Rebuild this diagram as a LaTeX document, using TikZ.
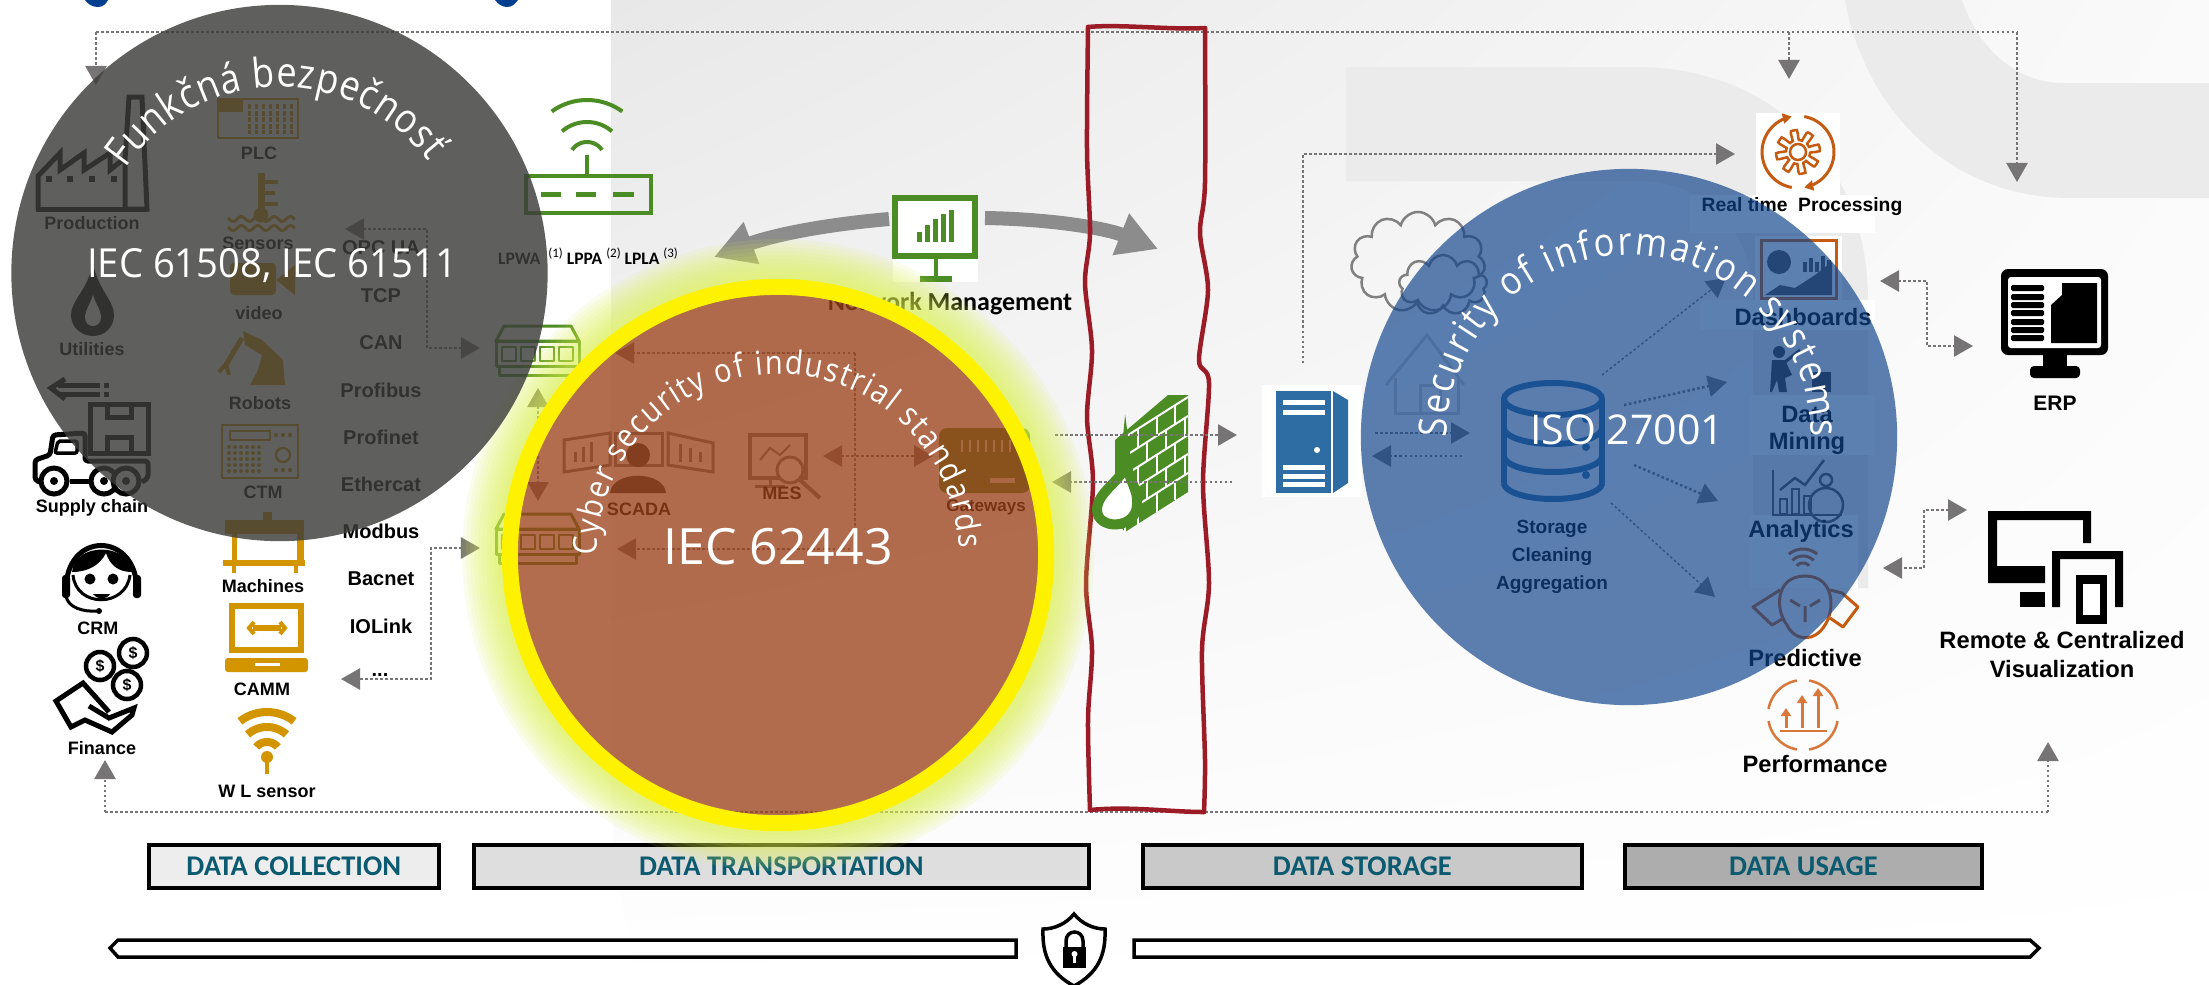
\documentclass[tikz,border=0pt]{standalone}
\usepackage{fontspec}
\setmainfont{Liberation Sans}
\newfontfamily\carl{Carlito}
\newfontfamily\opens{Open Sans}
\newfontfamily\opensn[FakeStretch=.88]{Open Sans}
\usetikzlibrary{arrows.meta,decorations.text,shapes.symbols,shadings}
\definecolor{dotc}{HTML}{767474}
\definecolor{gold}{HTML}{D29500}
\definecolor{grn}{HTML}{4C8C24}
\definecolor{srv}{HTML}{2E6DA4}
\definecolor{redl}{HTML}{9B1C26}
\definecolor{teal}{HTML}{0B5A70}
\definecolor{orng}{HTML}{C55A11}
\definecolor{orn2}{HTML}{D9773A}
\definecolor{ttl}{HTML}{003F8F}
\definecolor{band}{HTML}{EBEBEB}
\definecolor{bluec}{HTML}{10448C}
\definecolor{orac}{HTML}{9C411A}
\definecolor{grayc}{HTML}{3D3D3B}
\definecolor{glow}{HTML}{DDF24A}
\newcommand{\fpx}[1]{\fontsize{\fpeval{#1/3.515}pt}{\fpeval{#1/3.515*1.2}pt}\selectfont}
\newcommand{\warc}[5]{plot[domain=#4:#5,samples=30] ({#1+#3*cos(\x)},{#2-#3*sin(\x)})}
\newcommand{\supn}[1]{\raisebox{.42em}{\fpx{13}(#1)}}
\newcommand{\mkswitch}[2]{%
  \begin{scope}[shift={(#1,#2)},grn,lw=3,line join=round]
    \draw (8,0) -- (75,0) -- (83,15) -- (0,15) -- cycle;
    \draw (0,15) rectangle (83,40);
    \foreach \i in {6,25,44,63} {\draw[lw=2.5] (\i,21) rectangle ++(14,14);}
    \draw (3,40) rectangle (80,49);
  \end{scope}}
\tikzset{
  lw/.style={line width=#1*0.01cm},
  dotl/.style={draw=dotc,lw=2.5,dash pattern=on .025cm off .025cm},
  tip/.style={-{Triangle[width=.21cm,length=.19cm]}},
  tips/.style={{Triangle[width=.21cm,length=.19cm]}-{Triangle[width=.21cm,length=.19cm]}},
  lab/.style={font=\bfseries\fpx{18},inner sep=0pt,text=black,align=center},
  prot/.style={font=\bfseries\fpx{20},inner sep=0pt,text=black,align=center},
  labr/.style={font=\bfseries\fpx{23.7},inner sep=0pt,text=black,align=center},
  stage/.style={draw=black,lw=3.5,font=\carl\bfseries\fpx{28.5},text=teal,inner sep=0pt,anchor=north west},
  barx/.style={draw=black,lw=3.5,fill=white,line join=miter},
  bigtext/.style={font=\opens,text=white,inner sep=0pt},
  redb/.style={redl,lw=4.5,line join=round,line cap=round},
}
\begin{document}
\begin{tikzpicture}[x=0.01cm,y=-0.01cm]
\useasboundingbox (0,0) rectangle (2209,984);
\clip (0,0) rectangle (2209,984);
\fill[white] (0,0) rectangle (2209,984);
% background
\shade[upper left=black!9,upper right=black!2,lower left=white,lower right=white]
  (611,0) -- (2209,0) -- (2209,984) -- (640,984) .. controls (618,900) and (611,840) .. (611,750) -- cycle;
\fill[band] (1845,0) .. controls (1865,110) and (1950,198) .. (2070,198) -- (2209,198) -- (2209,83) -- (2063,83) .. controls (2010,83) and (1975,40) .. (1962,0) -- cycle;
\fill[band] (1346,67) -- (1635,67) .. controls (1780,67) and (1868,170) .. (1868,300) -- (1868,588) -- (1753,588) -- (1753,300) .. controls (1753,225) and (1700,181) .. (1640,181) -- (1346,181) -- cycle;
\fill[white] (1756,113) rectangle (1840,195);
\fill[white] (1690,195) rectangle (1875,233);
\fill[white] (1755,236) rectangle (1842,300);
\fill[white] (1700,300) rectangle (1875,330);
\fill[white] (1750,395) rectangle (1875,455);
\fill[white] (1750,515) rectangle (1858,588);
% title fragments
\fill[ttl] (85,0) .. controls (88,4) and (92,7) .. (98,7) .. controls (103,7) and (106,4) .. (108,0) -- cycle;
\fill[ttl] (495,0) .. controls (498,4) and (502,7) .. (507,7) .. controls (512,7) and (515,4) .. (518,0) -- cycle;

% connector end points
\coordinate (tL) at (96,85); \coordinate (tLc) at (96,32);
\coordinate (tR) at (2017,182); \coordinate (tRc) at (2017,32);
\coordinate (tM) at (1789,79); \coordinate (tMc) at (1789,32);
\coordinate (bL) at (105,760); \coordinate (bLc) at (105,812);
\coordinate (bR) at (2048,742); \coordinate (bRc) at (2048,812);
\coordinate (rtS) at (1303,363); \coordinate (rtC) at (1303,154); \coordinate (rtE) at (1735,154);
\coordinate (p1a) at (345,229); \coordinate (p1b) at (427,229); \coordinate (p1c) at (427,348); \coordinate (p1d) at (480,348);
\coordinate (p2a) at (480,548); \coordinate (p2b) at (431,548); \coordinate (p2c) at (431,679); \coordinate (p2d) at (341,679);
\coordinate (swA) at (538,388); \coordinate (swB) at (538,501);
\coordinate (g1) at (615,353); \coordinate (gc) at (855,353); \coordinate (g2) at (855,549); \coordinate (g3) at (617,549);
\coordinate (m1) at (823,456); \coordinate (m2) at (933,456);
\coordinate (f1) at (1055,435); \coordinate (f2) at (1237,435);
\coordinate (f3) at (1232,482); \coordinate (f4) at (1052,482);
\coordinate (s1) at (1375,433); \coordinate (s2) at (1470,433);
\coordinate (s3) at (1462,456); \coordinate (s4) at (1372,456);
\coordinate (db1a) at (1602,375); \coordinate (db1b) at (1726,278);
\coordinate (db2a) at (1624,405); \coordinate (db2b) at (1727,382);
\coordinate (db3a) at (1634,465); \coordinate (db3b) at (1718,501);
\coordinate (db4a) at (1611,503); \coordinate (db4b) at (1715,597);
\coordinate (e1) at (1880,281); \coordinate (e2) at (1927,281); \coordinate (e3) at (1927,346); \coordinate (e4) at (1973,346);
\coordinate (v1) at (1967,510); \coordinate (v2) at (1924,510); \coordinate (v3) at (1924,568); \coordinate (v4) at (1883,568);
\coordinate (nmL) at (889,219); \coordinate (nmLt) at (714,257);
\coordinate (nmR) at (985,218); \coordinate (nmRt) at (1158,249);

% dotted connectors
\draw[dotl] (tLc) -- (tRc);
\draw[dotl,tip] (tLc) -- (tL);
\draw[dotl,tip] (tRc) -- (tR);
\draw[dotl,tip] (tMc) -- (tM);
\draw[dotl] (bLc) -- (bRc);
\draw[dotl,tip] (bLc) -- (bL);
\draw[dotl,tip] (bRc) -- (bR);
\draw[dotl,tip] (rtS) -- (rtC) -- (rtE);
\draw[dotl,tips] (p1a) -- (p1b) -- (p1c) -- (p1d);
\draw[dotl,tips] (p2a) -- (p2b) -- (p2c) -- (p2d);
\draw[dotl,tips] (swA) -- (swB);
\draw[dotl,tip] (gc) -- (g1);
\draw[dotl,tip] (g2) -- (g3);
\draw[dotl] (gc) -- (g2);
\draw[dotl,tips] (m1) -- (m2);
\draw[dotl,tip] (s1) -- (s2);
\draw[dotl,tip] (s3) -- (s4);
\draw[dotl,lw=1.5,tip] (db1a) -- (db1b);
\draw[dotl,tip] (db2a) -- (db2b);
\draw[dotl,tip] (db3a) -- (db3b);
\draw[dotl,lw=1.5,tip] (db4a) -- (db4b);
\draw[dotl,tips] (e1) -- (e2) -- (e3) -- (e4);
\draw[dotl,tips] (v1) -- (v2) -- (v3) -- (v4);
% network management arrows
\draw[black!45,lw=14,-{Triangle[width=.42cm,length=.4cm]}] (nmL) .. controls (810,226) and (765,238) .. (nmLt);
\draw[black!45,lw=14,-{Triangle[width=.42cm,length=.4cm]}] (nmR) .. controls (1050,219) and (1105,228) .. (nmRt);

% red wavy frame
\draw[redb] plot[smooth,tension=.5] coordinates {(1088,27) (1087,150) (1090,233) (1085,283) (1092,350) (1087,417) (1093,483) (1086,583) (1092,650) (1088,720) (1090,810)};
\draw[redb] plot[smooth,tension=.5] coordinates {(1205,28) (1205,183) (1200,233) (1208,290) (1199,360) (1209,383) (1203,483) (1209,583) (1202,650) (1205,760) (1204,812)};
\draw[redb] (1088,27) .. controls (1120,24) and (1170,30) .. (1205,28);
\draw[redb] (1090,810) .. controls (1130,806) and (1170,812) .. (1204,812);

% section boxes
\node[stage,fill=black!7,minimum width=2.9cm,minimum height=.43cm] (dc) at (147,843) {DATA COLLECTION};
\node[stage,fill=black!13,minimum width=6.15cm,minimum height=.43cm] (dt) at (472,843) {DATA TRANSPORTATION};
\node[stage,fill=black!21,minimum width=4.39cm,minimum height=.43cm] (ds) at (1141,843) {DATA STORAGE};
\node[stage,fill=black!32,minimum width=3.57cm,minimum height=.43cm] (du) at (1623,843) {DATA USAGE};
% long bars
\draw[barx] (1016,940) -- (118,940) -- (110,948) -- (118,957) -- (1016,957) -- cycle;
\draw[barx] (1134,940) -- (2030,940) -- (2039,948) -- (2030,957) -- (1134,957) -- cycle;
% shield
\draw[lw=3.5,fill=white] (1074,914) .. controls (1066,924) and (1054,929) .. (1043,929) .. controls (1042,955) and (1050,973) .. (1074,986) .. controls (1098,973) and (1106,955) .. (1105,929) .. controls (1094,929) and (1082,924) .. (1074,914) -- cycle;
\draw[lw=3.5] (1066,948) -- (1066,941) .. controls (1066,929) and (1083,929) .. (1083,941) -- (1083,948);
\fill[black] (1063,947) rectangle (1086,968);
\fill[white] (1074.5,954) circle[radius=.03cm]; \fill[white] (1073,955) rectangle (1076,963);

% ---- left black icons
\begin{scope}[lw=5,line join=miter]
\draw (38,209) -- (38,176) -- (60,153) -- (60,170) -- (84,153) -- (84,170) -- (110,153) -- (110,170) -- (125,158);
\draw (125,209) -- (125,160) -- (129,97) -- (142,97) -- (147,209) -- cycle;
\draw (36,209) -- (148,209);
\foreach \i in {49,70,92,114} {\fill (\i-3,176) rectangle (\i+3,182);}
\fill[black] (93,263) .. controls (88,290) and (71,300) .. (71,315) .. controls (71,328) and (82,336) .. (93,336) .. controls (104,336) and (114,328) .. (114,315) .. controls (114,300) and (98,290) .. (93,263) -- cycle;
\fill[white] (93,295) .. controls (90,305) and (85,310) .. (85,317) .. controls (85,323) and (89,326) .. (93,326) .. controls (97,326) and (101,323) .. (101,317) .. controls (101,310) and (96,305) .. (93,295) -- cycle;
\draw (65,379) -- (51,388) -- (65,399);
\draw (58,385) -- (100,385) (58,394) -- (100,394) (104,385) -- (109,385) (104,394) -- (109,394);
\draw (90,404) rectangle (148,453);
\draw (107,404) -- (107,417) -- (131,417) -- (131,404) (107,453) -- (107,437) -- (131,437) -- (131,453);
\draw[rounded corners=.03cm,fill=white] (40,482) -- (35,480) -- (35,460) -- (50,455) -- (53,435) -- (85,433) -- (85,461) -- (148,461) -- (148,478) -- (142,482);
\draw (70,481) -- (92,481);
\draw[lw=3.5,rounded corners=.02cm] (58,441) -- (77,441) -- (77,453) -- (55,453) -- cycle;
\foreach \i in {54,104,126} {\draw[fill=white] (\i,481) circle[radius=.13cm]; \fill (\i,481) circle[radius=.04cm];}
% CRM
\draw (66,592) .. controls (64,530) and (138,530) .. (137,592);
\fill (72,572) .. controls (75,542) and (128,542) .. (132,572) .. controls (118,572) and (110,565) .. (106,553) .. controls (100,565) and (88,572) .. (72,572) -- cycle;
\draw[lw=3] (73,575) .. controls (76,608) and (126,608) .. (130,575);
\fill[rounded corners=.03cm] (62,575) rectangle (70,598);
\fill[rounded corners=.03cm] (133,575) rectangle (141,598);
\draw[lw=3] (66,596) .. controls (68,608) and (84,612) .. (97,611);
\fill (99,611) circle[radius=.03cm];
\fill (90,579) circle[radius=.055cm]; \fill (113,579) circle[radius=.055cm];
\fill (93,594) .. controls (98,600) and (106,600) .. (110,594) -- cycle;
% Finance
\foreach \i/\j in {133/653,100/666,127/685} {\draw[lw=4.5,fill=white] (\i,\j) circle[radius=.14cm];
  \node[inner sep=0pt,font=\bfseries\fpx{16}] at (\i,\j) {\$};}
\draw[line join=miter,lw=5] (89,706) -- (109,718) -- (134,708) -- (132,715) -- (112,732) -- (85,720) -- (71,727) -- (56,701) -- (83,683) -- (109,712);
\end{scope}

% ---- gold icons
\begin{scope}[gold,lw=2.5]
\draw (218,99) rectangle (298,138);
\fill (218,99) rectangle (243,112);
\foreach \i in {249,256,263,270,277,284,291} {\draw[lw=3,dash pattern=on .05cm off .015cm] (\i,104) -- (\i,134);}
\draw[lw=7] (261,173) -- (261,215);
\draw[lw=3.5] (264,182) -- (278,182) (264,193) -- (275,193) (264,204) -- (278,204);
\fill (261,215) circle[radius=.075cm];
\draw[lw=3] plot[domain=228:295,samples=40] (\x,{219+2.5*sin(\x*22)});
\draw[lw=3] plot[domain=228:295,samples=40] (\x,{228+2.5*sin(\x*22)});
\fill[rounded corners=.04cm] (230,263) rectangle (276,295);
\fill (276,280) -- (295,265) -- (295,295) -- cycle;
\fill (243,331) -- (262,340) -- (283,360) -- (285,385) -- (250,385) -- (258,370) -- (262,355) -- (245,345) -- cycle;
\draw[lw=5] (242,338) -- (224,368);
\draw[lw=4] (219,372) -- (226,364) -- (229,375);
\draw (222,425) rectangle (298,478);
\draw (230,431) rectangle (270,440);
\foreach \i in {276,283,290} {\fill (\i,435) circle[radius=.022cm]; \fill (\i,470) circle[radius=.022cm]; }
\foreach \i in {229,235,241,247,253,259} \foreach \j in {447,453,459,465,471} {\fill (\i,\j) circle[radius=.02cm];}
\draw (283,455) circle[radius=.07cm];
\fill (225,520) rectangle (304,534);
\fill (263,512) rectangle (272,522);
\fill (232,534) rectangle (237,562);
\fill (297,534) rectangle (304,562);
\fill (223,560) rectangle (305,566);
\fill (232,566) rectangle (236,573); \fill (294,566) rectangle (298,573);
\draw[lw=6] (232,606) rectangle (301,650);
\fill[rounded corners=.03cm] (225,658) rectangle (308,672);
\fill[white] (255,663) rectangle (280,666);
\draw[lw=6] (253,628) -- (281,628);
\draw[lw=4] (254,622) -- (249,628) -- (254,634) (280,622) -- (285,628) -- (280,634);
\draw[lw=8] \warc{267}{756}{44}{52}{128};
\draw[lw=8] \warc{267}{756}{29}{48}{132};
\draw[lw=8] \warc{267}{756}{14}{40}{140};
\fill (267,757) circle[radius=.06cm];
\draw[lw=4] (267,757) -- (267,774);
\end{scope}

% ---- green icons
\begin{scope}[grn,lw=4]
\draw (526,176) rectangle (651,213);
\draw[lw=5] (541,194) -- (561,194) (576,194) -- (596,194) (613,194) -- (634,194);
\draw (587,155) -- (587,176);
\draw \warc{587}{160}{18}{34}{146};
\draw \warc{587}{160}{38}{49}{131};
\draw \warc{587}{160}{60}{54}{126};
\end{scope}
\mkswitch{496}{326}
\mkswitch{496}{514}
% monitor net mgmt
\fill[white] (893,195) rectangle (978,282);
\draw[grn,lw=6] (895,198) rectangle (975,256);
\foreach \i/\j in {917/10,925/17,933/23,941/28,949/32} {\fill[grn] (\i,242) rectangle (\i+5,242-\j);}
\draw[grn,lw=4] (936,256) -- (936,278);
\fill[grn] (920,276) rectangle (952,282);
% gateway
\fill[grn,rounded corners=.08cm] (939,428) rectangle (1030,493);
\foreach \i in {962,970,978,986,994,1002,1010} {\draw[white!80!grn,lw=2] (\i,440) -- (\i,452);}
\fill[white!80!grn] (990,478) rectangle (1015,483);
% firewall
\fill[grn] (1115,440) -- (1168,395) -- (1188,395) -- (1188,492) -- (1125,532) -- (1115,520) -- cycle;
\foreach \i in {0,1,2,3,4} {
  \draw[white,lw=2] (1125,{437+19*\i}) -- (1188,{397+19*\i});
  \foreach \t in {.2,.5,.8} {\draw[white,lw=2] ({1125+63*(\t+0.15*mod(\i,2))},{437-40*(\t+0.15*mod(\i,2))+19*\i}) -- ++(0,19);}
}
\draw[white,lw=2] (1125,437) -- (1125,532);
\draw[grn,lw=10,fill=white] (1126,460) .. controls (1126,480) and (1097,490) .. (1097,510) .. controls (1097,530) and (1136,530) .. (1137,505) .. controls (1139,490) and (1128,480) .. (1126,460) -- cycle;
\draw[dotl,tip] (f1) -- (f2);
\draw[dotl,tip] (f3) -- (f4);
% SCADA, MES
\begin{scope}[black!55]
\draw[lw=3] (564,440) -- (610,433) -- (610,465) -- (564,472) -- cycle;
\draw[lw=3] (668,433) -- (713,443) -- (713,472) -- (668,465) -- cycle;
\draw[lw=3] (615,433) rectangle (662,465);
\foreach \i/\j in {575/10,583/15,591/20,680/18,690/14,700/10} {\draw[lw=3] (\i,462) -- (\i,462-\j);}
\fill[black!80] (638,455) circle[radius=.12cm];
\fill[black!80] (610,493) .. controls (612,470) and (664,470) .. (666,493) -- cycle;
\draw[lw=3.5] (750,435) rectangle (806,478);
\draw[lw=3] (770,478) -- (770,486) (755,486) -- (785,486);
\draw[lw=3,fill=white] (790,470) circle[radius=.13cm];
\draw[lw=4] (800,480) -- (820,498);
\draw[lw=2] (760,460) -- (770,448) -- (780,455) -- (790,445);
\end{scope}
% server
\fill[white] (1262,385) rectangle (1362,497);
\fill[srv] (1276,391) rectangle (1331,493);
\fill[srv] (1333,391) -- (1348,400) -- (1348,483) -- (1333,493) -- cycle;
\foreach \j in {400,410,465,474,482} {\fill[white] (1283,\j) rectangle (1325,\j+5);}
\fill[white] (1317,450) circle[radius=.03cm];
% clouds
\node[cloud,draw=black!50,lw=2.5,cloud puffs=11,aspect=1.3,minimum width=1.34cm,minimum height=1.0cm,inner sep=0pt] (cl1) at (1418,262) {};
\node[cloud,draw=black!50,lw=2.5,cloud puffs=9,aspect=1.5,minimum width=.88cm,minimum height=.6cm,inner sep=0pt] (cl2) at (1443,285) {};
% house
\begin{scope}[black!20,lw=3]
\draw (1386,385) -- (1427,335) -- (1464,385);
\draw (1395,378) -- (1395,413) -- (1458,413) -- (1458,378);
\draw (1420,413) -- (1420,385) -- (1440,385) -- (1440,413);
\end{scope}
% DB
\begin{scope}[srv,lw=6]
\draw (1553,399) ellipse[x radius=.49cm,y radius=.16cm];
\draw (1504,399) -- (1504,483) (1602,399) -- (1602,483);
\draw plot[domain=180:360,samples=30] ({1553+49*cos(\x)},{428-16*sin(\x)});
\draw plot[domain=180:360,samples=30] ({1553+49*cos(\x)},{456-16*sin(\x)});
\draw plot[domain=180:360,samples=30] ({1553+49*cos(\x)},{483-16*sin(\x)});
\fill (1586,419) circle[radius=.04cm]; \fill (1586,447) circle[radius=.04cm]; \fill (1586,475) circle[radius=.04cm];
\end{scope}
% gear
\begin{scope}[orng,lw=2.5]
\draw plot[domain=0:360,samples=160] ({1798+(17+5*max(-1,min(1,3*sin(8*\x))))*cos(\x)},{152-(17+5*max(-1,min(1,3*sin(8*\x))))*sin(\x)}) -- cycle;
\draw (1798,152) circle[radius=.08cm];
\draw[lw=3,-{Triangle[width=.1cm,length=.09cm]}] \warc{1798}{152}{36}{80}{-80};
\draw[lw=3,-{Triangle[width=.1cm,length=.09cm]}] \warc{1798}{152}{36}{260}{100};
\end{scope}
% dashboards
\draw[orng,lw=3] (1761,240) rectangle (1836,298);
\fill[black!70] (1779,262) circle[radius=.12cm];
\foreach \i/\j in {1803/10,1809/14,1815/10,1821/16,1827/12} {\fill[black!70] (\i,272) rectangle (\i+4,272-\j);}
\fill[black!70] (1765,295) -- (1780,285) -- (1795,288) -- (1815,275) -- (1832,262) -- (1832,295) -- cycle;
% data mining
\fill[black!80] (1779,352) circle[radius=.06cm];
\fill[black!80] (1772,360) -- (1785,360) -- (1792,375) -- (1785,378) -- (1787,392) -- (1779,392) -- (1777,380) -- (1772,392) -- (1770,392) -- cycle;
\fill[black!80] (1812,372) rectangle (1831,392);
\draw[black!80,lw=3] (1785,362) -- (1800,350);
% analytics
\begin{scope}[black!70,lw=2.5]
\draw (1773,470) -- (1773,515) -- (1842,515);
\draw (1780,490) -- (1795,478) -- (1805,485) -- (1824,460);
\foreach \i/\j in {1780/15,1792/25,1804/18} {\draw (\i,514) rectangle (\i+7,514-\j);}
\draw (1826,505) circle[radius=.17cm];
\draw (1826,480) circle[radius=.06cm];
\end{scope}
% predictive
\begin{scope}[orng,lw=3,line join=round]
\draw \warc{1803}{571}{8}{40}{140};
\draw \warc{1803}{571}{15}{45}{135};
\draw \warc{1803}{571}{22}{50}{130};
\draw (1805,576) .. controls (1835,576) and (1835,610) .. (1825,625) .. controls (1815,642) and (1795,642) .. (1787,625) .. controls (1775,610) and (1775,576) .. (1805,576) -- cycle;
\draw (1780,590) -- (1753,607) -- (1772,625) -- (1784,618);
\draw (1830,590) -- (1842,593) -- (1858,607) -- (1843,627) -- (1830,618);
\draw (1790,600) -- (1800,606) (1820,600) -- (1810,606) (1805,606) -- (1805,622);
\end{scope}
% performance
\begin{scope}[orn2,lw=2.5]
\draw \warc{1803}{715}{35}{10}{80};
\draw \warc{1803}{715}{35}{100}{170};
\draw \warc{1803}{715}{35}{190}{260};
\draw \warc{1803}{715}{35}{280}{350};
\draw (1780,731) -- (1827,731);
\draw[lw=3,-{Triangle[width=.1cm,length=.08cm]}] (1786,728) -- (1786,708);
\draw[lw=3,-{Triangle[width=.1cm,length=.08cm]}] (1802,728) -- (1802,695);
\draw[lw=3,-{Triangle[width=.1cm,length=.08cm]}] (1818,728) -- (1818,688);
\end{scope}
% ERP
\fill[rounded corners=.07cm] (2001,269) rectangle (2108,355);
\fill[white,rounded corners=.03cm] (2008,277) rectangle (2101,348);
\foreach \j in {285,294,302,310,319,327,335} {\fill[rounded corners=.015cm] (2011,\j) rectangle (2044,\j+6);}
\fill (2051,343) -- (2051,305) -- (2062,295) -- (2062,283) -- (2097,283) -- (2097,343) -- cycle;
\fill (2043,355) rectangle (2067,367);
\fill[rounded corners=.04cm] (2030,366) rectangle (2080,378);
% Remote
\fill (1988,511) -- (2091,511) -- (2091,543) -- (2083,543) -- (2083,520) -- (1997,520) -- (1997,566) -- (2045,566) -- (2045,583) -- (1988,583) -- cycle;
\fill (2020,592) -- (2045,592) -- (2045,607) -- (2020,607) -- cycle;
\fill (2052,551) -- (2123,551) -- (2123,607) -- (2115,607) -- (2115,559) -- (2060,559) -- (2060,607) -- (2052,607) -- cycle;
\fill (2076,575) rectangle (2107,624);
\fill[white] (2083,584) rectangle (2100,615);

% labels
\node[lab] (lProd) at (92,223) {Production};
\node[lab] (lUtil) at (92,349) {Utilities};
\node[lab] (lSup) at (92,508) {Supply chain};
\node[lab] (lCrm) at (98,628) {CRM};
\node[lab] (lFin) at (102,748) {Finance};
\node[lab] (lPlc) at (259,153) {PLC};
\node[lab] (lSen) at (258,243) {Sensors};
\node[lab] (lVid) at (259,313) {video};
\node[lab] (lRob) at (260,403) {Robots};
\node[lab] (lCtm) at (263,492) {CTM};
\node[lab] (lMac) at (263,586) {Machines};
\node[lab] (lCam) at (262,689) {CAMM};
\node[lab] (lWl) at (267,791) {W L sensor};
\node[prot] (pOpc) at (381,248) {OPC UA};
\node[prot] (pTcp) at (381,296) {TCP};
\node[prot] (pCan) at (381,343) {CAN};
\node[prot] (pPb) at (381,390) {Profibus};
\node[prot] (pPn) at (381,437) {Profinet};
\node[prot] (pEc) at (381,484) {Ethercat};
\node[prot] (pMb) at (381,531) {Modbus};
\node[prot] (pBa) at (381,579) {Bacnet};
\node[prot] (pIo) at (381,626) {IOLink};
\node[prot] (pDots) at (380,675) {...};
\node[inner sep=0pt,font=\carl\fpx{17.5},text=black] (lLp) at (588,256) {\textbf{LPWA}\ \ \supn{1}\ \textbf{LPPA}\ \supn{2}\ \textbf{LPLA}\ \supn{3}};
\node[inner sep=0pt,font=\carl\bfseries\fpx{26},text=black] (lNet) at (950,304) {Network Management};
\node[lab] (lSca) at (639,509) {SCADA};
\node[lab] (lMes) at (782,493) {MES};
\node[lab,font=\bfseries\fpx{17}] (lGw) at (986,507) {Gateways};
\node[lab,font=\bfseries\fpx{19.3}] (lRt) at (1802,207) {Real time\ \ Processing};
\node[labr] (lDash) at (1803,317) {Dashboards};
\node[labr] (lData) at (1807,414) {Data};
\node[labr] (lMin) at (1807,443) {Mining};
\node[labr] (lAn) at (1801,531) {Analytics};
\node[labr] (lPr) at (1805,658) {Predictive};
\node[labr] (lPf) at (1815,764) {Performance};
\node[lab,font=\bfseries\fpx{19}] (lSt) at (1552,529) {Storage};
\node[lab,font=\bfseries\fpx{19}] (lCl) at (1552,557) {Cleaning};
\node[lab,font=\bfseries\fpx{19}] (lAg) at (1552,585) {Aggregation};
\node[labr,font=\bfseries\fpx{21}] (lErp) at (2055,403) {ERP};
\node[labr] (lRem) at (2062,640) {Remote \& Centralized};
\node[labr] (lVis) at (2062,669) {Visualization};

% circles
\foreach \r in {280,284,288,292,296,300,304,308,312,316} {\fill[glow,opacity=.1,even odd rule] (778,555) circle[radius=\r*0.01cm] circle[radius=2.7cm];}
\fill[grayc,opacity=.82] (279.5,273) circle[radius=2.68cm];
\fill[orac,opacity=.77] (778,555) circle[radius=2.68cm];
\draw[yellow,lw=16] (778,555) circle[radius=2.68cm];
\fill[bluec,opacity=.68] (1629,437) circle[radius=2.68cm];

% circle texts
\node[bigtext,font=\opens\fpx{40}] (iec1) at (272,266) {\scalebox{.955}[1]{IEC 61508, IEC 61511}};
\node[bigtext,font=\opens\fpx{50}] (iec2) at (778,547) {IEC 62443};
\node[bigtext,font=\opens\fpx{41}] (iso) at (1627,430) {ISO 27001};
\path[decorate,decoration={text along path,text align={fit to path},text={|\opensn\fpx{41}\color{white}|Funkčná bezpečnosť}}]
  plot[domain=146:37,samples=60] ({279.5+186*cos(\x)},{273-186*sin(\x)});
\path[decorate,decoration={text along path,text align={fit to path},text={|\opensn\fpx{33}\color{white}|Cyber security of industrial standards}}]
  plot[domain=180:2,samples=80] ({778+181*cos(\x)},{555-181*sin(\x)});
\path[decorate,decoration={text along path,text align={fit to path},text={|\opensn\fpx{39}\color{white}|Security of information systems}}]
  plot[domain=180:0,samples=80] ({1629+182*cos(\x)},{437-182*sin(\x)});
\end{tikzpicture}
\end{document}
